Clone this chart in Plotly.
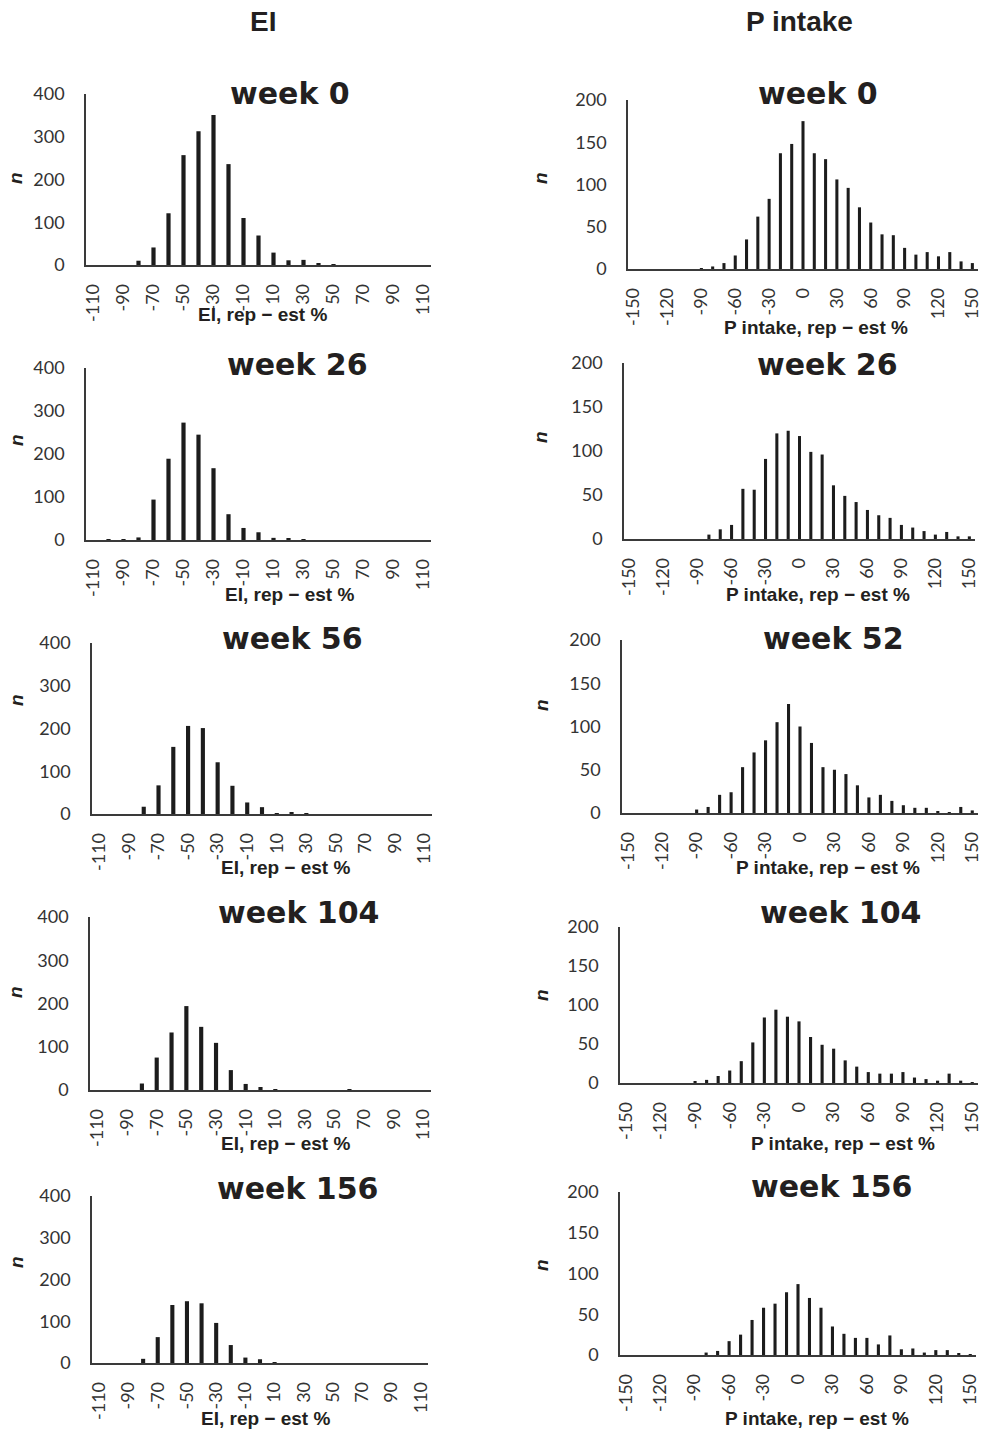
import plotly.graph_objects as go

# ---------------- data ----------------
EI_BINS = [-110, -100, -90, -80, -70, -60, -50, -40, -30, -20, -10, 0,
           10, 20, 30, 40, 50, 60, 70, 80, 90, 100, 110]
EI_TICKS = [-110, -90, -70, -50, -30, -10, 10, 30, 50, 70, 90, 110]
EI_TICKTEXT = ["-110", "-90", "-70", "-50", "-30", "-10", "10", "30", "50", "70", "90", "110"]

P_BINS = [-150, -140, -130, -120, -110, -100, -90, -80, -70, -60, -50, -40, -30, -20, -10, 0,
          10, 20, 30, 40, 50, 60, 70, 80, 90, 100, 110, 120, 130, 140, 150]
P_TICKS = [-150, -120, -90, -60, -30, 0, 30, 60, 90, 120, 150]
P_TICKTEXT = ["-150", "-120", "-90", "-60", "-30", "0", "30", "60", "90", "120", "150"]

EI_WEEK0 = [0, 0, 0, 10, 41, 121, 257, 313, 351, 236, 110, 69, 29, 11, 12, 3, 1, 0, 0, 0, 0, 0, 0]
EI_WEEK26 = [0, 1, 2, 6, 94, 189, 273, 245, 167, 60, 28, 18, 5, 3, 1, 0, 0, 0, 0, 0, 0, 0, 0]
EI_WEEK56 = [0, 0, 0, 17, 67, 157, 206, 201, 121, 66, 27, 16, 2, 3, 1, 0, 0, 0, 0, 0, 0, 0, 0]
EI_WEEK104 = [0, 0, 0, 15, 75, 133, 194, 146, 109, 46, 14, 7, 1, 0, 0, 0, 0, 1, 0, 0, 0, 0, 0]
EI_WEEK156 = [0, 0, 0, 10, 62, 139, 148, 143, 96, 43, 13, 9, 2, 0, 0, 0, 0, 0, 0, 0, 0, 0, 0]

P_WEEK0 = [0, 0, 0, 0, 0, 0, 1, 3, 7, 16, 35, 62, 83, 137, 148, 175,
           137, 130, 106, 96, 73, 55, 41, 40, 25, 17, 20, 15, 20, 9, 7]
P_WEEK26 = [0, 0, 0, 0, 0, 0, 0, 5, 11, 16, 57, 56, 91, 120, 123, 117,
            99, 96, 61, 49, 42, 33, 27, 24, 16, 13, 9, 5, 8, 3, 3]
P_WEEK52 = [0, 0, 0, 0, 0, 0, 4, 7, 21, 24, 53, 70, 84, 105, 126, 100,
            81, 53, 50, 45, 32, 18, 21, 14, 9, 6, 6, 2, 1, 7, 3]
P_WEEK104 = [0, 0, 0, 0, 0, 0, 2, 4, 9, 16, 28, 52, 84, 94, 85, 79,
             59, 49, 44, 29, 21, 14, 12, 12, 14, 7, 5, 3, 12, 3, 1]
P_WEEK156 = [0, 0, 0, 0, 0, 0, 0, 3, 5, 17, 25, 43, 58, 63, 77, 87,
             70, 58, 35, 26, 21, 21, 13, 24, 7, 8, 3, 6, 6, 2, 1]

EI_TITLES = ["week 0", "week 26", "week 56", "week 104", "week 156"]
P_TITLES = ["week 0", "week 26", "week 52", "week 104", "week 156"]
EI_YTICKS = [0, 100, 200, 300, 400]
P_YTICKS = [0, 50, 100, 150, 200]
COL_HEADERS = ["EI", "P intake"]
EI_XTITLE = "EI, rep \u2212 est %"
P_XTITLE = "P intake, rep \u2212 est %"
Y_TITLE = "n"

# ---------------- layout geometry (pixels) ----------------
W, H = 984, 1431
# (x0, x1, ytop, ybottom, title_x, title_y, xtitle_x, xtitle_y, ylab_y)
LEFT_GEOM = [
    (86, 431, 94, 265, 290, 93, 262, 314, 178),
    (86, 431, 368, 540, 297, 365, 289, 594, 440),
    (92, 432, 643, 814, 292, 638, 285, 868, 700),
    (90, 431, 917, 1090, 298, 912, 285, 1143, 992),
    (92, 428, 1196, 1363, 297, 1188, 265, 1418, 1262),
]
RIGHT_GEOM = [
    (628, 978, 100, 269, 818, 93, 816, 327, 178),
    (624, 975, 363, 539, 827, 365, 818, 594, 437),
    (622, 978, 640, 813, 833, 638, 828, 868, 705),
    (620, 978, 927, 1083, 840, 912, 843, 1143, 995),
    (620, 976, 1192, 1355, 831, 1186, 817, 1418, 1265),
]

AXIS_COLOR = "#3a3a3a"
TICK_FONT = dict(family="Lato, Open Sans, sans-serif", size=18, color="#333333")
BAR_COLOR = "#1c1c1c"

fig = go.Figure()
annotations = []
layout_axes = {}

panels = []
for i, vals in enumerate([EI_WEEK0, EI_WEEK26, EI_WEEK56, EI_WEEK104, EI_WEEK156]):
    panels.append(("EI", vals, EI_TITLES[i], LEFT_GEOM[i]))
for i, vals in enumerate([P_WEEK0, P_WEEK26, P_WEEK52, P_WEEK104, P_WEEK156]):
    panels.append(("P", vals, P_TITLES[i], RIGHT_GEOM[i]))

for k, (kind, vals, title, g) in enumerate(panels):
    n = k + 1
    x0, x1, yt, yb, tx, ty, xtx, xty, yly = g
    xname = "x" if n == 1 else f"x{n}"
    yname = "y" if n == 1 else f"y{n}"
    xkey = "xaxis" if n == 1 else f"xaxis{n}"
    ykey = "yaxis" if n == 1 else f"yaxis{n}"
    if kind == "EI":
        bins, ticks, ticktext, yticks, xtitle = EI_BINS, EI_TICKS, EI_TICKTEXT, EI_YTICKS, EI_XTITLE
        xr = [-115, 115]
        bw = 2.8
    else:
        bins, ticks, ticktext, yticks, xtitle = P_BINS, P_TICKS, P_TICKTEXT, P_YTICKS, P_XTITLE
        xr = [-155, 155]
        bw = 2.7
    fig.add_trace(go.Bar(x=bins, y=vals, xaxis=xname, yaxis=yname,
                         marker=dict(color=BAR_COLOR, line=dict(width=0)),
                         width=bw, showlegend=False))
    layout_axes[xkey] = dict(
        domain=[x0 / W, x1 / W], anchor=yname, range=xr, automargin=False,
        tickmode="array", tickvals=ticks, ticktext=ticktext, tickangle=-90,
        showgrid=False, zeroline=False, showline=True, linecolor=AXIS_COLOR, linewidth=1.5,
        ticks="", tickfont=TICK_FONT, ticklabelstandoff=10, fixedrange=True,
        ticklabeloverflow="allow",
    )
    layout_axes[ykey] = dict(
        domain=[1 - yb / H, 1 - yt / H], anchor=xname, range=[0, yticks[-1]], automargin=False,
        tickmode="array", tickvals=yticks,
        showgrid=False, zeroline=False, showline=True, linecolor=AXIS_COLOR, linewidth=1.5,
        ticks="", tickfont=TICK_FONT, ticklabelstandoff=16, fixedrange=True,
        ticklabeloverflow="allow",
    )
    annotations.append(dict(text=f"<b>{title}</b>", x=tx / W, y=1 - ty / H, xref="paper", yref="paper",
                            showarrow=False, xanchor="center", yanchor="middle",
                            font=dict(family="DejaVu Sans, sans-serif", size=30, color="#231f20")))
    annotations.append(dict(text=f"<b>{xtitle}</b>", x=xtx / W, y=1 - xty / H, xref="paper", yref="paper",
                            showarrow=False, xanchor="center", yanchor="middle",
                            font=dict(family="Liberation Sans, Arial, sans-serif", size=19, color="#231f20")))
    ylx = 16 if kind == "EI" else 541
    annotations.append(dict(text=f"<b><i>{Y_TITLE}</i></b>", x=ylx / W, y=1 - yly / H, xref="paper", yref="paper",
                            showarrow=False, xanchor="center", yanchor="middle", textangle=-90,
                            font=dict(family="Liberation Sans, Arial, sans-serif", size=19, color="#231f20")))

annotations.append(dict(text=f"<b>{COL_HEADERS[0]}</b>", x=263 / W, y=1 - 22 / H, xref="paper", yref="paper",
                        showarrow=False, xanchor="center", yanchor="middle",
                        font=dict(family="Liberation Sans, Arial, sans-serif", size=28, color="#231f20")))
annotations.append(dict(text=f"<b>{COL_HEADERS[1]}</b>", x=799 / W, y=1 - 22 / H, xref="paper", yref="paper",
                        showarrow=False, xanchor="center", yanchor="middle",
                        font=dict(family="Liberation Sans, Arial, sans-serif", size=28, color="#231f20")))

fig.update_layout(
    width=W, height=H,
    margin=dict(l=0, r=0, t=0, b=0, pad=0, autoexpand=False),
    paper_bgcolor="white", plot_bgcolor="white",
    annotations=annotations,
    bargap=0.7,
    **layout_axes,
)

fig.write_html("out.html",
               config={"displayModeBar": False},
               post_script="document.body.style.margin='0';document.body.style.overflow='hidden';")
